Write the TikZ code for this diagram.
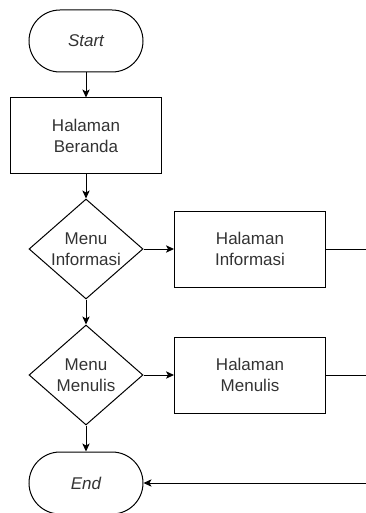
\documentclass[tikz,border=0pt]{standalone}
\usepackage{fontspec}
\setmainfont{Liberation Sans}
\usetikzlibrary{shapes.geometric,arrows.meta}

\begin{document}
\begin{tikzpicture}[x=0.75pt,y=-0.75pt,line width=0.75pt,
  every node/.style={font=\fontsize{12.75}{15.5}\selectfont,text=black!80,align=center},
  terminal/.style={draw,rounded corners=23.25pt,minimum width=85.5pt,minimum height=46.5pt},
  proses/.style={draw,minimum width=113.25pt,minimum height=57pt},
  pilihan/.style={draw,diamond,aspect=1.14,inner sep=0pt,minimum width=85.5pt,minimum height=75pt},
  panah/.style={-{Stealth[length=6pt,width=5.5pt,inset=1.5pt]}}]
  \useasboundingbox (0,0) rectangle (366,513);

  \node[terminal] (mulai) at (86,41) {\itshape Start};
  \node[proses] (beranda) at (86,136) {Halaman\\Beranda};
  \node[pilihan] (menuinfo) at (86,249) {Menu\\Informasi};
  \node[proses] (hinfo) at (250,249) {Halaman\\Informasi};
  \node[pilihan] (menutulis) at (86,375) {Menu\\Menulis};
  \node[proses] (htulis) at (250,375) {Halaman\\Menulis};
  \node[terminal] (selesai) at (86,483) {\itshape End};

  \coordinate (infokanan) at (366,249);
  \coordinate (tuliskanan) at (366,375);
  \coordinate (selesaikanan) at (366,483);

  \draw[panah] (mulai) -- (beranda);
  \draw[panah] (beranda) -- (menuinfo);
  \draw[panah] (menuinfo) -- (hinfo);
  \draw[panah] (menuinfo) -- (menutulis);
  \draw[panah] (menutulis) -- (htulis);
  \draw[panah] (menutulis) -- (selesai);
  \draw (hinfo) -- (infokanan);
  \draw (htulis) -- (tuliskanan);
  \draw[panah] (selesaikanan) -- (selesai);
\end{tikzpicture}
\end{document}
